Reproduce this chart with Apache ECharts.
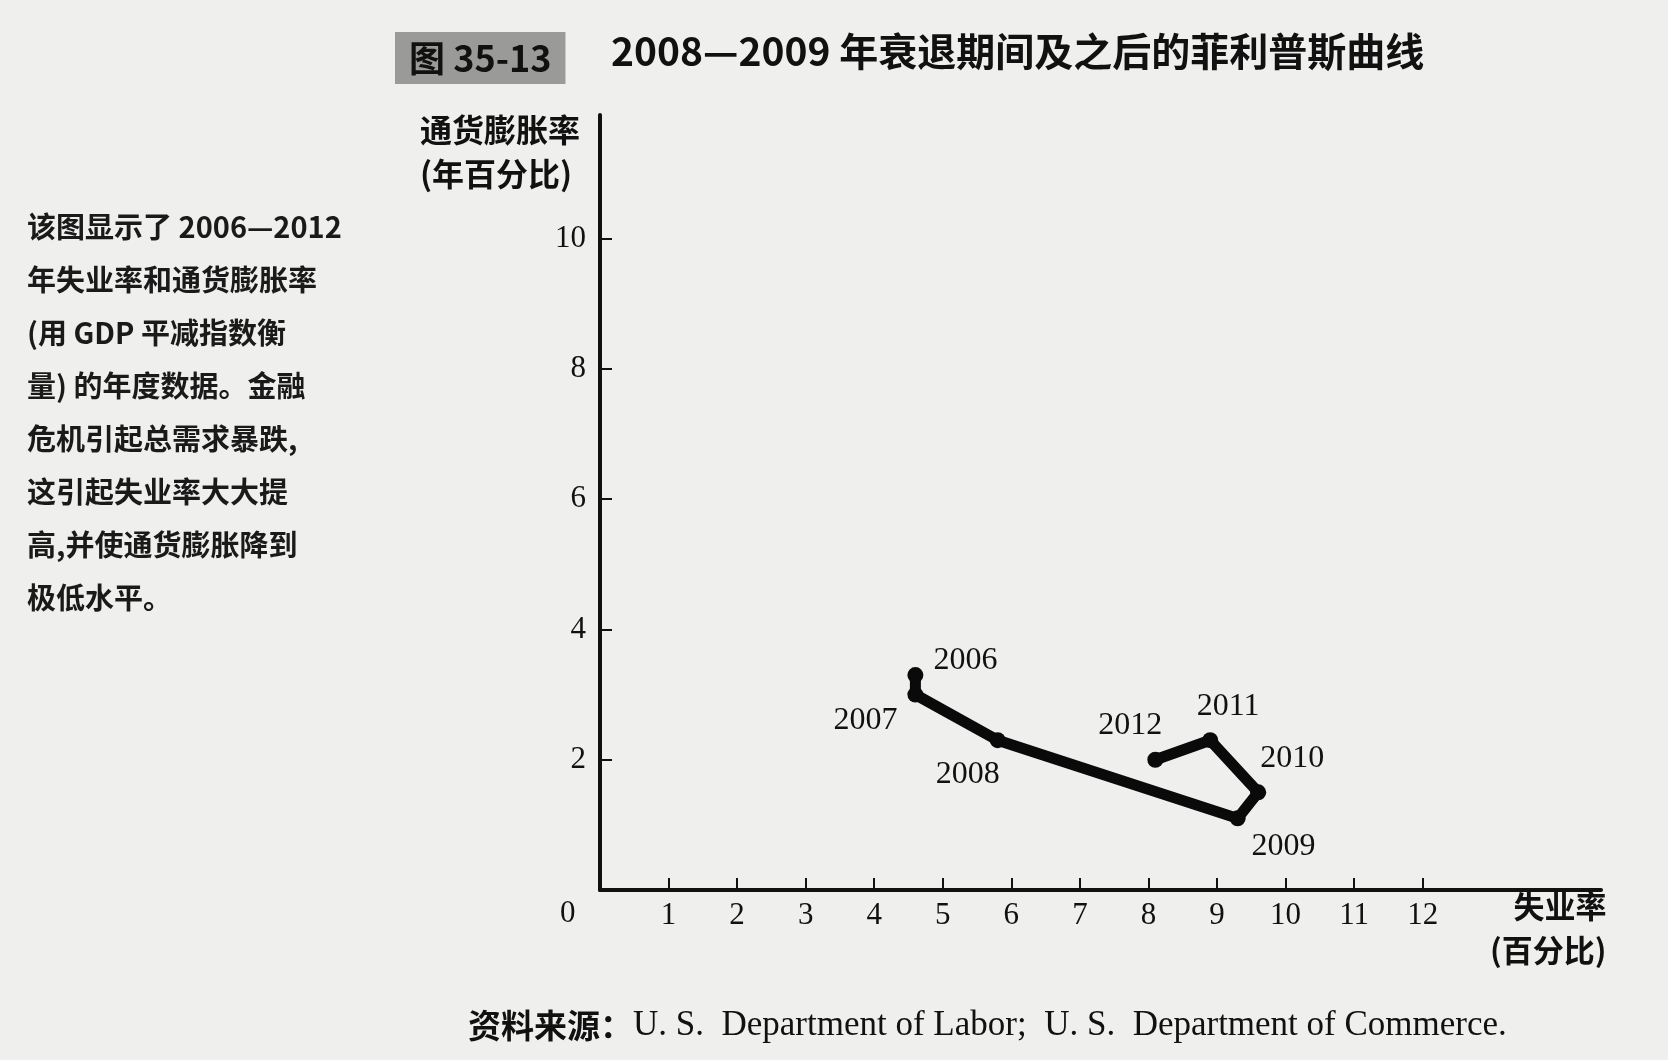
<!DOCTYPE html>
<html>
<head>
<meta charset="utf-8">
<script src="https://cdn.jsdelivr.net/npm/echarts@6/dist/echarts.min.js"></script>
<style>
  html, body { margin: 0; padding: 0; background: #efefed; }
  #main { width: 1668px; height: 1060px; }
</style>
</head>
<body>
<div id="main"></div>
<script>
var years = ['2006', '2007', '2008', '2009', '2010', '2011', '2012'];
var unemployment = [4.6, 4.6, 5.8, 9.3, 9.6, 8.9, 8.1];
var inflation = [3.3, 3.0, 2.3, 1.1, 1.5, 2.3, 2.0];
var xTicks = [1, 2, 3, 4, 5, 6, 7, 8, 9, 10, 11, 12];
var yTicks = [2, 4, 6, 8, 10];

var cjk = '"Noto Sans CJK SC", sans-serif';
var serif = '"Liberation Serif", "Noto Sans CJK SC", serif';

// where each year label sits around its point
var labelPlace = [
    {position: 'right', offset: [0, -14]},
    {position: 'left', offset: [0, 26]},
    {position: 'bottom', offset: [-30, 0]},
    {position: 'bottom', offset: [46, -6]},
    {position: 'top', offset: [34, 0]},
    {position: 'top', offset: [18, 0]},
    {position: 'top', offset: [-25, 0]}
];

var points = [];
for (var i = 0; i < years.length; i++) {
    points.push({
        name: years[i],
        value: [unemployment[i], inflation[i]],
        label: labelPlace[i]
    });
}

var myChart = echarts.init(document.getElementById('main'));

var option = {
    backgroundColor: '#efefed',
    animation: false,
    title: [{
        text: '图 35-13',
        left: 395,
        top: 32,
        backgroundColor: '#9a9a98',
        padding: [8, 14, 8, 14],
        textStyle: {fontFamily: cjk, fontSize: 36, fontWeight: 'bold', color: '#111'}
    }, {
        text: '2008—2009 年衰退期间及之后的菲利普斯曲线',
        left: 606,
        top: 27,
        textStyle: {fontFamily: cjk, fontSize: 39, fontWeight: 'bold', color: '#111'}
    }],
    grid: {left: 600, right: 67, top: 115, bottom: 170},
    xAxis: {
        type: 'value',
        min: 0,
        max: 14.6,
        splitLine: {show: false},
        axisLine: {lineStyle: {color: '#111', width: 4}},
        axisTick: {show: true, inside: true, length: 12, customValues: xTicks, lineStyle: {color: '#111', width: 2}},
        axisLabel: {customValues: xTicks, margin: 10, color: '#111', fontFamily: serif, fontSize: 31}
    },
    yAxis: {
        type: 'value',
        min: 0,
        max: 11.9,
        splitLine: {show: false},
        axisLine: {lineStyle: {color: '#111', width: 4}},
        axisTick: {show: true, inside: true, length: 12, customValues: yTicks, lineStyle: {color: '#111', width: 2}},
        axisLabel: {customValues: yTicks, margin: 14, color: '#111', fontFamily: serif, fontSize: 31}
    },
    series: [{
        type: 'line',
        data: points,
        symbol: 'circle',
        symbolSize: 16,
        itemStyle: {color: '#0a0a0a'},
        lineStyle: {color: '#0a0a0a', width: 11},
        label: {
            show: true,
            formatter: '{b}',
            distance: 10,
            color: '#111',
            fontFamily: serif,
            fontSize: 32
        }
    }],
    graphic: [{
        type: 'text',
        left: 420,
        top: 108,
        style: {
            text: '通货膨胀率\n(年百分比)',
            fontFamily: cjk, fontSize: 32, fontWeight: 'bold', lineHeight: 44,
            fill: '#111', textAlign: 'left'
        }
    }, {
        type: 'text',
        left: 560,
        top: 898,
        style: {text: '0', fontFamily: serif, fontSize: 31, fill: '#111'}
    }, {
        type: 'text',
        left: 1490,
        top: 884,
        style: {
            text: '失业率\n(百分比)',
            fontFamily: cjk, fontSize: 31, fontWeight: 'bold', lineHeight: 44,
            fill: '#111', textAlign: 'right'
        }
    }, {
        type: 'text',
        left: 27,
        top: 200,
        style: {
            text: '该图显示了 2006—2012\n年失业率和通货膨胀率\n(用 GDP 平减指数衡\n量) 的年度数据。金融\n危机引起总需求暴跌,\n这引起失业率大大提\n高,并使通货膨胀降到\n极低水平。',
            fontFamily: cjk, fontSize: 29, fontWeight: 'bold', lineHeight: 53, fill: '#1a1a1a'
        }
    }, {
        type: 'text',
        left: 468,
        top: 1008,
        style: {
            text: '{a|资料来源：}{b|U. S.  Department of Labor;  U. S.  Department of Commerce.}',
            rich: {
                a: {fontFamily: cjk, fontSize: 33, fontWeight: 'bold', fill: '#111'},
                b: {fontFamily: serif, fontSize: 35, fill: '#111'}
            }
        }
    }]
};

myChart.setOption(option);
</script>
</body>
</html>
